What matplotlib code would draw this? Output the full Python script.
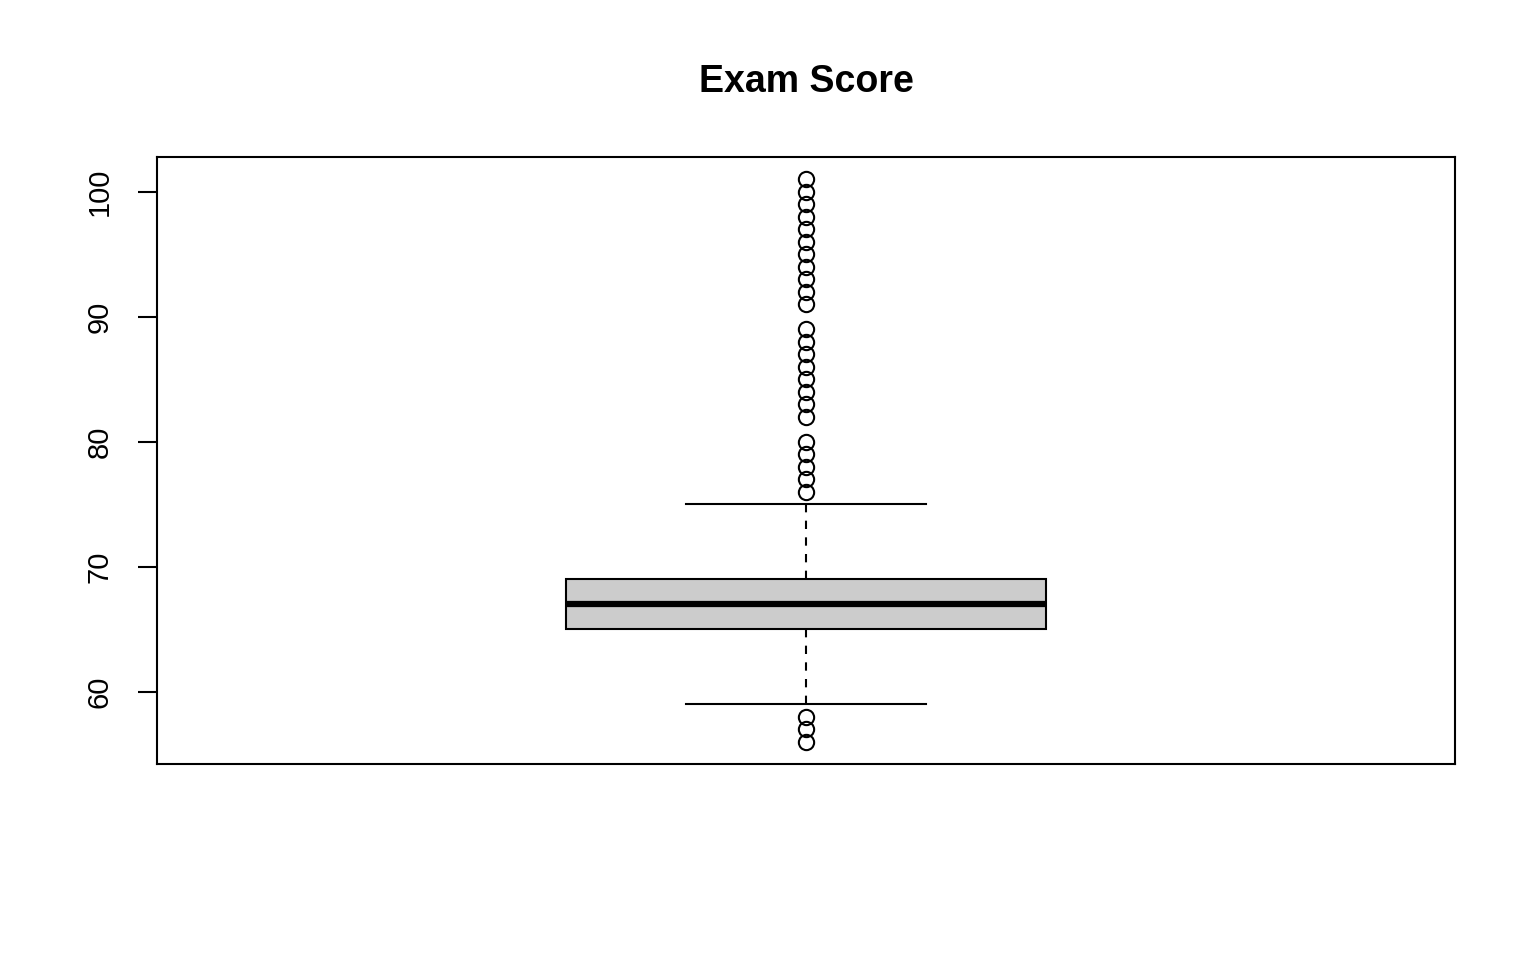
import matplotlib
matplotlib.use("Agg")
import matplotlib.pyplot as plt

plt.rcParams['font.family'] = ['Liberation Sans', 'DejaVu Sans']

title = "Exam Score"
q1, median, q3 = 65, 67, 69
whisker_low, whisker_high = 59, 75
outliers_high = [76, 77, 78, 79, 80, 82, 83, 84, 85, 86, 87, 88, 89,
                 91, 92, 93, 94, 95, 96, 97, 98, 99, 100, 101]
outliers_low = [56, 57, 58]
yticks = [60, 70, 80, 90, 100]

fig = plt.figure(figsize=(15.36, 9.6), dpi=100)
ax = fig.add_axes([157/1536, 1 - 764/960, (1455-157)/1536, (764-157)/960])

stats = [dict(med=median, q1=q1, q3=q3, whislo=whisker_low, whishi=whisker_high,
              fliers=outliers_low + outliers_high, label="")]
ax.bxp(stats, positions=[1], widths=0.4, patch_artist=True, showfliers=True,
       boxprops=dict(facecolor="#CCCCCC", edgecolor="black", linewidth=1.5),
       medianprops=dict(color="black", linewidth=4.5, solid_capstyle="butt"),
       whiskerprops=dict(color="black", linewidth=1.5, linestyle=(0, (4, 4))),
       capprops=dict(color="black", linewidth=1.5),
       capwidths=0.2,
       flierprops=dict(marker="o", markerfacecolor="none", markeredgecolor="black",
                       markersize=11, markeredgewidth=1.5))

allv = outliers_low + outliers_high
lo, hi = min(allv), max(allv)
pad = (hi - lo) * 0.04
ax.set_ylim(lo - pad, hi + pad)
ax.set_xlim(0.46, 1.54)
ax.set_xticks([])
ax.set_yticks(yticks)
ax.set_yticklabels([str(t) for t in yticks], rotation=90, va="center", fontsize=21)
ax.tick_params(axis="y", length=14, width=1.5, pad=17)
for s in ax.spines.values():
    s.set_linewidth(1.5)

fig.text(806/1536, 1 - 82/960, title, ha="center", va="center",
         fontsize=27, fontweight="bold")

fig.savefig("out.png", dpi=100)
